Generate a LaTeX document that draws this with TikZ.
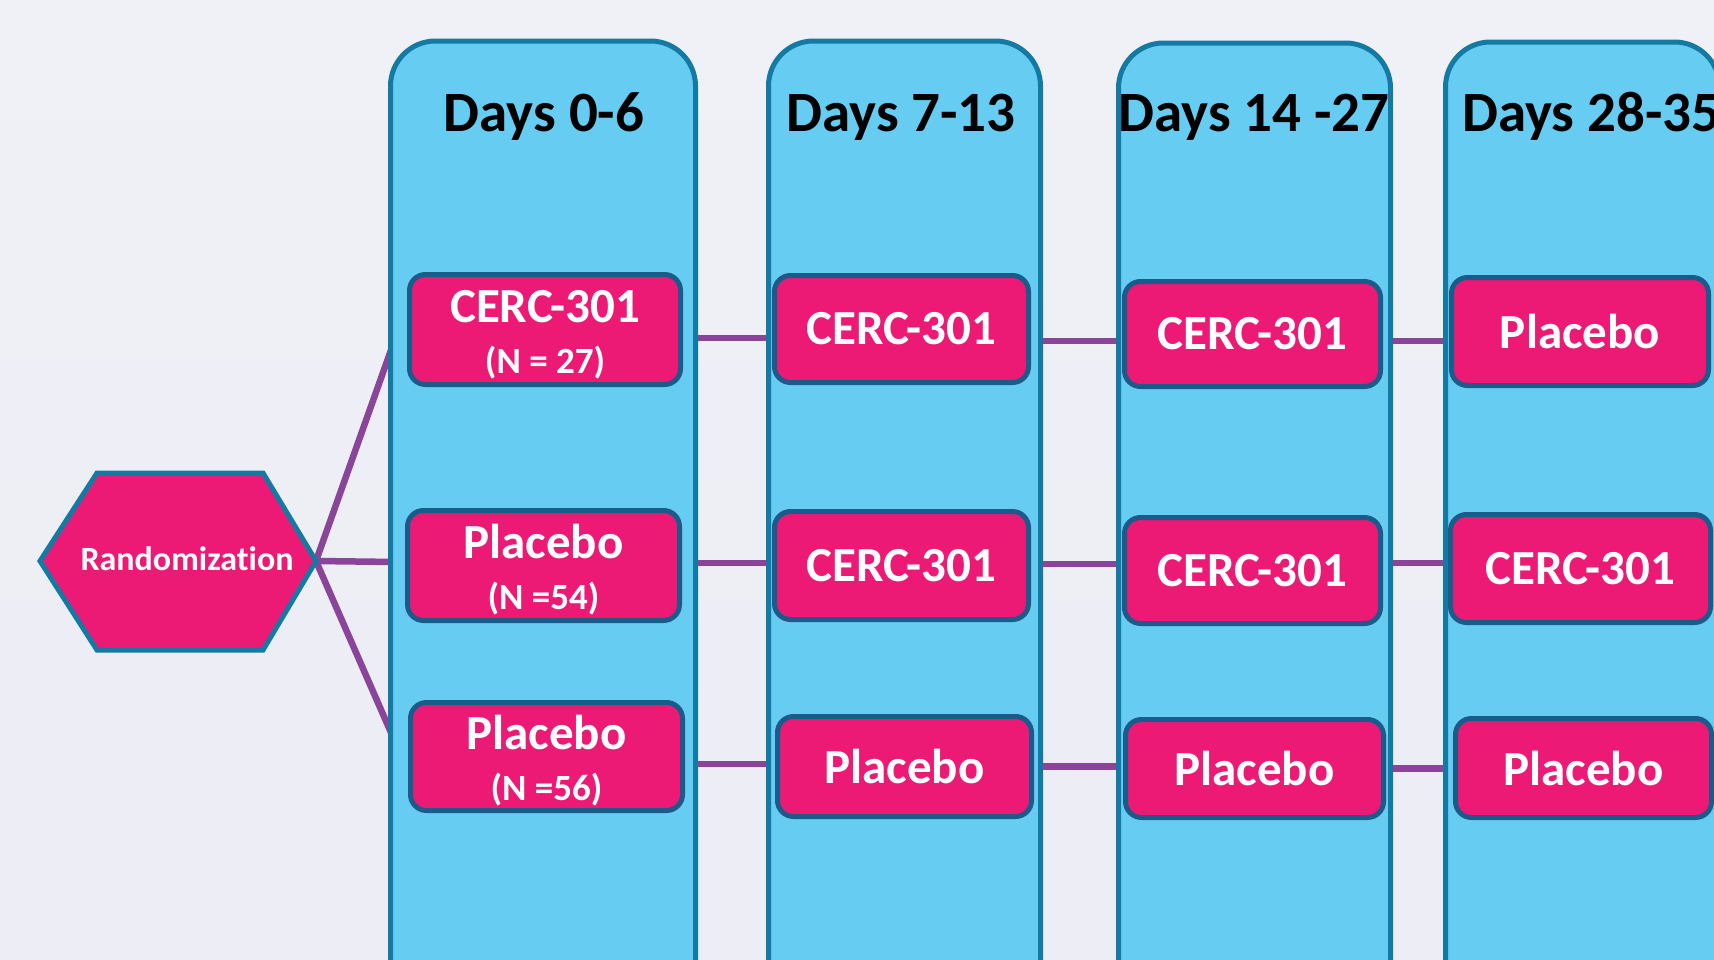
\documentclass[tikz,border=0pt]{standalone}
\usepackage{fontspec}
\setmainfont{Carlito}[Ligatures=NoCommon]
\usetikzlibrary{calc}
\pgfdeclarelayer{bg}
\pgfsetlayers{bg,main}
\definecolor{bgtop}{HTML}{F0F1F6}
\definecolor{bgbot}{HTML}{ECEDF5}
\definecolor{colfill}{HTML}{66CCF2}
\definecolor{colborder}{HTML}{137BA3}
\definecolor{boxfill}{HTML}{ED1A75}
\definecolor{boxborder}{HTML}{1B5B8A}
\definecolor{purp}{HTML}{8A459B}
\begin{document}
\begin{tikzpicture}[x=1pt,y=-1pt,
  colbox/.style={draw=colborder, fill=colfill, line width=5pt, rounded corners=45pt,
    anchor=north, minimum height=1000pt, inner sep=0pt},
  armbox/.style={draw=boxborder, fill=boxfill, line width=5pt, rounded corners=16pt,
    text=white, font=\bfseries\fontsize{49}{51}\selectfont, align=center, inner sep=0pt},
  head/.style={font=\bfseries\fontsize{57}{60}\selectfont, text=black, anchor=base, inner sep=0pt},
  conn/.style={draw=purp, line width=6.5pt}]
\useasboundingbox (0,0) rectangle (1714,959);
\begin{pgfonlayer}{bg}
\shade[top color=bgtop, bottom color=bgbot] (0,0) rectangle (1714,959);
\end{pgfonlayer}
% lines from randomization (drawn first, under the column)
\coordinate (hL) at (40,561);
\coordinate (hTL) at (97,473);
\coordinate (hTR) at (263,473);
\coordinate (hR) at (316,561);
\coordinate (hBR) at (263,650);
\coordinate (hBL) at (97,650);
\coordinate (t1) at (396,336);
\coordinate (t2) at (396,562);
\coordinate (t3) at (396,744);
\draw[conn] (hR) -- (t1);
\draw[conn] (hR) -- (t2);
\draw[conn] (hR) -- (t3);
\begin{scope}
\clip (0,0) rectangle (1714,959);
% columns
\node[colbox, minimum width=305pt] (col1) at (543,38.5) {};
\node[colbox, minimum width=272pt] (col2) at (904.5,38.5) {};
\node[colbox, minimum width=272pt] (col3) at (1254.5,40.5) {};
\node[colbox, minimum width=274pt] (col4) at (1582.5,39.5) {};
% headings
\node[head] (h1) at (544,131) {Days 0-6};
\node[head] (h2) at (901,131) {Days 7-13};
\node[head] (h3) at (1254,131) {Days 14 -27};
\node[head, anchor=base west] (h4) at (1462,131) {Days 28-35};
% hexagon
\draw[draw=colborder, fill=boxfill, line width=5pt, line join=miter]
  (hL) -- (hTL) -- (hTR) -- (hR) -- (hBR) -- (hBL) -- cycle;
\node[text=white, font=\bfseries\fontsize{34}{36}\selectfont] (rand) at (187,559) {Randomization};
% arm boxes
\node[armbox, minimum width=271pt, minimum height=110pt] (c1r1) at (545,329.5)
  {\rule{0pt}{43pt}CERC-301\\{\fontsize{37}{51}\selectfont (N = 27)}};
\node[armbox, minimum width=272pt, minimum height=110pt] (c1r2) at (543.5,565.5)
  {\rule{0pt}{43pt}Placebo\\{\fontsize{37}{51}\selectfont (N =54)}};
\node[armbox, minimum width=272pt, minimum height=108pt] (c1r3) at (546.5,756.5)
  {\rule{0pt}{43pt}Placebo\\{\fontsize{37}{51}\selectfont (N =56)}};
\node[armbox, minimum width=254pt, minimum height=107pt] (c2r1) at (901.5,329) {CERC-301};
\node[armbox, minimum width=254pt, minimum height=108pt] (c2r2) at (901.5,565.5) {CERC-301};
\node[armbox, minimum width=254pt, minimum height=100pt] (c2r3) at (904.5,766.5) {Placebo};
\node[armbox, minimum width=256pt, minimum height=105pt] (c3r1) at (1252.5,334) {CERC-301};
\node[armbox, minimum width=256pt, minimum height=106pt] (c3r2) at (1252.5,570.5) {CERC-301};
\node[armbox, minimum width=258pt, minimum height=98pt] (c3r3) at (1254.5,768.5) {Placebo};
\node[armbox, minimum width=257pt, minimum height=108pt] (c4r1) at (1580,331.5) {Placebo};
\node[armbox, minimum width=260pt, minimum height=108pt] (c4r2) at (1580.5,568.5) {CERC-301};
\node[armbox, minimum width=256pt, minimum height=99pt] (c4r3) at (1583.5,768) {Placebo};
\end{scope}
% connectors between columns (visible only in the gaps)
\draw[conn] ([yshift=-8.5pt]c1r1.east -| col1.east) -- ([yshift=-8.5pt]c1r1.east -| c2r1.west -| col2.west);
\draw[conn] ([yshift=-12pt]c2r1.east -| col2.east) -- ([yshift=-12pt]c2r1.east -| c3r1.west -| col3.west);
\draw[conn] ([yshift=-7pt]c3r1.east -| col3.east) -- ([yshift=-7pt]c3r1.east -| c4r1.west -| col4.west);
\draw[conn] ([yshift=2.5pt]c1r2.east -| col1.east) -- ([yshift=2.5pt]c1r2.east -| c2r2.west -| col2.west);
\draw[conn] ([yshift=1.5pt]c2r2.east -| col2.east) -- ([yshift=1.5pt]c2r2.east -| c3r2.west -| col3.west);
\draw[conn] ([yshift=7.5pt]c3r2.east -| col3.east) -- ([yshift=7.5pt]c3r2.east -| c4r2.west -| col4.west);
\draw[conn] ([yshift=-7.5pt]c1r3.east -| col1.east) -- ([yshift=-7.5pt]c1r3.east -| c2r3.west -| col2.west);
\draw[conn] (c2r3.east -| col2.east) -- (c2r3.east -| c3r3.west -| col3.west);
\draw[conn] (c3r3.east -| col3.east) -- (c3r3.east -| c4r3.west -| col4.west);
\end{tikzpicture}
\end{document}
